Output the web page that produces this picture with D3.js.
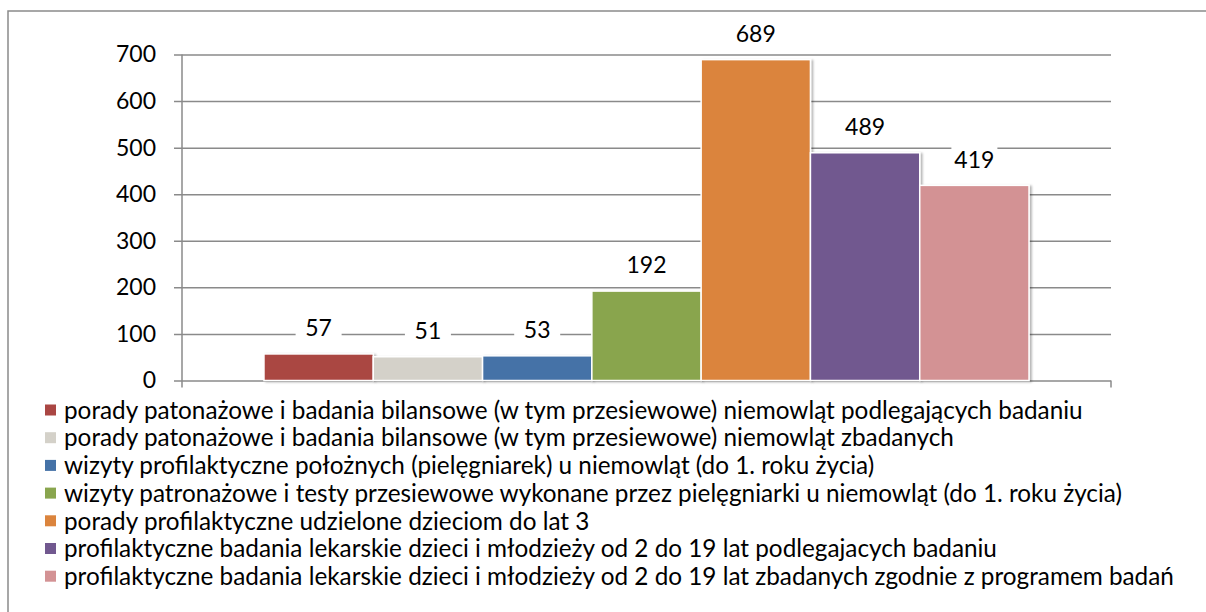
<!DOCTYPE html>
<html>
<head>
<meta charset="utf-8">
<script src="https://cdn.jsdelivr.net/npm/d3@7"></script>
<style>
  body { margin: 0; background: #fff; }
  text { font-family: Lato, "Open Sans", sans-serif; fill: #000; }
</style>
</head>
<body>
<div id="chart"></div>
<script>
// data
const series = [
  "porady patonażowe i badania bilansowe (w tym przesiewowe) niemowląt podlegających badaniu",
  "porady patonażowe i badania bilansowe (w tym przesiewowe) niemowląt zbadanych",
  "wizyty profilaktyczne położnych (pielęgniarek) u niemowląt (do 1. roku życia)",
  "wizyty patronażowe i testy przesiewowe wykonane przez pielęgniarki u niemowląt (do 1. roku życia)",
  "porady profilaktyczne udzielone dzieciom do lat 3",
  "profilaktyczne badania lekarskie dzieci i młodzieży od 2 do 19 lat podlegajacych badaniu",
  "profilaktyczne badania lekarskie dzieci i młodzieży od 2 do 19 lat zbadanych zgodnie z programem badań"
];
const values = [57, 51, 53, 192, 689, 489, 419];
const colors = ["#AA4643", "#D4D1C9", "#4572A7", "#89A54E", "#DB843D", "#71588F", "#D39294"];
const yTicks = [0, 100, 200, 300, 400, 500, 600, 700];

const width = 1206, height = 612;
const svg = d3.select("#chart").append("svg")
    .attr("width", width)
    .attr("height", height);

// drop shadow for bars
const defs = svg.append("defs");
const f = defs.append("filter").attr("id", "shadow")
    .attr("x", "-10%").attr("y", "-10%").attr("width", "130%").attr("height", "130%");
f.append("feDropShadow").attr("dx", 2).attr("dy", 1).attr("stdDeviation", 1.2)
    .attr("flood-color", "#000").attr("flood-opacity", 0.3);

// outer frame
svg.append("rect")
    .attr("x", 8).attr("y", 11)
    .attr("width", 1230).attr("height", 640)
    .attr("fill", "none").attr("stroke", "#8a8a8a").attr("stroke-width", 1.5);

const plot = { left: 182, right: 1111, top: 54.5, bottom: 380.5 };

const y = d3.scaleLinear().domain([0, 700]).range([plot.bottom, plot.top]);
const x0 = d3.scaleBand().domain(["all"]).range([plot.left, plot.right]);
const x1 = d3.scaleBand().domain(series).range([0, x0.bandwidth()])
    .paddingInner(0).paddingOuter(0.75);

// gridlines + y axis
const yAxis = svg.append("g")
    .attr("transform", `translate(${plot.left},0)`)
    .call(d3.axisLeft(y).tickValues(yTicks).tickSize(8).tickPadding(18))
    .call(g => g.select(".domain").remove());
yAxis.selectAll(".tick line")
    .attr("x2", plot.right - plot.left)
    .attr("x1", -8)
    .attr("stroke", "#8a8a8a").attr("stroke-width", 1.5);
yAxis.selectAll(".tick text")
    .attr("font-size", 23)
    .attr("font-family", "Lato, sans-serif")
    .attr("fill", "#000");

// vertical axis line and x axis category ticks
svg.append("line")
    .attr("x1", plot.left).attr("x2", plot.left)
    .attr("y1", plot.top).attr("y2", plot.bottom + 7)
    .attr("stroke", "#8a8a8a").attr("stroke-width", 1.5);
svg.append("line")
    .attr("x1", plot.right).attr("x2", plot.right)
    .attr("y1", plot.bottom).attr("y2", plot.bottom + 7)
    .attr("stroke", "#8a8a8a").attr("stroke-width", 1.5);

// bars
const bars = svg.append("g").attr("transform", `translate(${x0("all")},0)`);
bars.selectAll("rect")
    .data(values)
    .join("rect")
    .attr("x", (d, i) => x1(series[i]))
    .attr("y", d => y(d))
    .attr("width", x1.bandwidth())
    .attr("height", d => y(0) - y(d))
    .attr("fill", (d, i) => colors[i])
    .attr("stroke", "#fff")
    .attr("stroke-width", 1.5)
    .attr("filter", "url(#shadow)");

// value labels
const labels = bars.selectAll("g.lbl")
    .data(values)
    .join("g")
    .attr("class", "lbl")
    .attr("transform", (d, i) => `translate(${x1(series[i]) + x1.bandwidth() / 2},${y(d) - 26})`);
labels.append("rect")
    .attr("x", -23).attr("y", -13)
    .attr("width", 46).attr("height", 26)
    .attr("fill", "#fff");
labels.append("text")
    .attr("text-anchor", "middle")
    .attr("dy", "0.36em")
    .attr("font-size", 23)
    .text(d => d);

// legend
const legend = svg.append("g");
const row = legend.selectAll("g")
    .data(series)
    .join("g")
    .attr("transform", (d, i) => `translate(45,${410 + i * 27.7})`);
row.append("rect")
    .attr("x", 0).attr("y", -5.5)
    .attr("width", 11).attr("height", 11)
    .attr("fill", (d, i) => colors[i]);
row.append("text")
    .attr("x", 19)
    .attr("dy", "0.36em")
    .attr("font-size", 24.3)
    .text(d => d);
</script>
</body>
</html>
